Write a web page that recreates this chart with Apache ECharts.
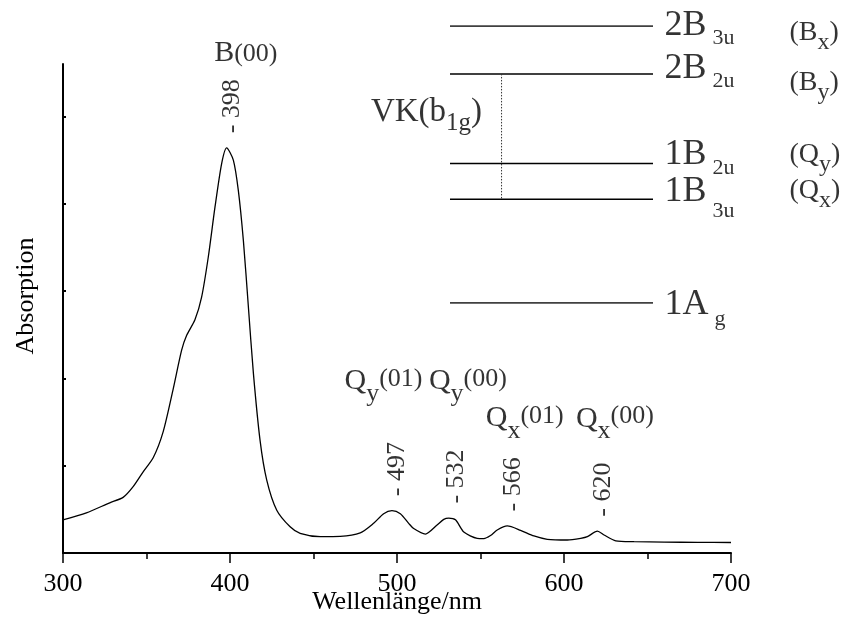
<!DOCTYPE html>
<html>
<head>
<meta charset="utf-8">
<title>Absorptionsspektrum</title>
<script src="https://cdn.jsdelivr.net/npm/echarts@6/dist/echarts.min.js"></script>
<style>
  html, body { margin: 0; padding: 0; background: #fff; }
  #chart { width: 845px; height: 628px; }
</style>
</head>
<body>
<div id="chart"></div>
<script>
// Absorption spectrum: wavelength (nm) and absorbance (arbitrary units)
const wavelengths = [300, 314, 328, 336, 342, 348, 354, 360, 366, 371, 374, 379, 383, 387, 391, 395, 398,
  402, 405, 408, 411, 414, 418, 422, 428, 436, 442, 454, 466, 478, 486, 492, 497, 502, 507, 510, 517,
  524, 528, 531, 535, 540, 548, 552, 556, 560, 566, 574, 582, 590, 602, 610, 614, 620, 624, 631, 642,
  660, 680, 700];
const absorbance = [0.378, 0.46, 0.575, 0.637, 0.76, 0.93, 1.09, 1.39, 1.88, 2.32, 2.49, 2.67, 2.93, 3.39, 3.96, 4.46, 4.64,
  4.50, 4.15, 3.58, 2.82, 2.06, 1.29, 0.835, 0.49, 0.30, 0.225, 0.187, 0.19, 0.23, 0.34, 0.45, 0.485, 0.45, 0.34, 0.28, 0.217,
  0.32, 0.385, 0.40, 0.38, 0.24, 0.168, 0.165, 0.20, 0.263, 0.31, 0.26, 0.195, 0.157, 0.149, 0.168, 0.187, 0.25, 0.206, 0.14, 0.13,
  0.125, 0.122, 0.12];

// Labelled band maxima
const peakWavelengths = [398, 497, 532, 566, 620];
const peakAbsorbance = [4.64, 0.485, 0.40, 0.31, 0.25];
const peakBand = ['B', 'Q', 'Q', 'Q', 'Q'];
const peakPolarization = ['', 'y', 'y', 'x', 'x'];
const peakVibronic = ['(00)', '(01)', '(00)', '(01)', '(00)'];

// Axis ticks
const xTickInterval = 100;
const yTicks = [1, 2, 3, 4, 5];

// Four-orbital state scheme (schematic level heights)
const levelHeight = [0, 3.75, 5.04, 8.27, 10];
const levelState = ['1A', '1B', '1B', '2B', '2B'];
const levelSymmetry = ['g', '3u', '2u', '2u', '3u'];
const levelBand = ['', 'Q', 'Q', 'B', 'B'];
const levelPolarization = ['', 'x', 'y', 'y', 'x'];
// Vibronic coupling between 2B2u and 1B3u
const couplingFrom = 3;
const couplingTo = 1;
const couplingName = 'VK(b';
const couplingSymmetry = '1g';

const FONT = 'Liberation Serif';
const BLACK = '#000';

// rich-text token: every token hangs from the top of the line so that
// the top padding sets its baseline (sub-/superscript shift)
function tok(size, padTop, padLeft) {
  return {
    fontFamily: FONT, fontSize: size, color: BLACK,
    verticalAlign: 'top',
    padding: [padTop || 0, 0, 0, padLeft || 0]
  };
}

// label placement (px, relative to anchor point)
const peakNameOffset = [[-12, -110], [-47, -145], [-21, -152], [-21, -123], [-21, -128]];
const stateLabelOffset = [[12, -16], [12, -25], [12, -26], [12, -23], [12, -18]];
const stateSubStyle = ['subG', 'subLow', 'sub', 'sub', 'sub'];
const bandLabelOffset = [null, [137, -21.5], [137, -22], [137, -4.5], [137, -7]];

const chart = echarts.init(document.getElementById('chart'), null, { renderer: 'canvas' });

const spectrumData = wavelengths.map((w, i) => [w, absorbance[i]]);

const peakNumberData = peakWavelengths.map((w, i) => [w, peakAbsorbance[i]]);

const peakNameData = peakWavelengths.map((w, i) => ({
  value: [w, peakAbsorbance[i]],
  label: { position: peakNameOffset[i] }
}));

const levelSeries = levelHeight.map((h) => ({
  type: 'line',
  xAxisIndex: 1,
  yAxisIndex: 1,
  data: [[0, h], [1, h]],
  showSymbol: false,
  symbol: 'none',
  silent: true,
  lineStyle: { color: BLACK, width: 1.5 },
  z: 3
}));

const stateLabelData = levelHeight.map((h, i) => ({
  value: [1, h],
  label: {
    position: stateLabelOffset[i],
    formatter: '{big|' + levelState[i] + '}{' + stateSubStyle[i] + '|' + levelSymmetry[i] + '}'
  }
}));

const bandLabelData = [];
levelHeight.forEach((h, i) => {
  if (!levelBand[i]) return;
  bandLabelData.push({
    value: [1, h],
    label: {
      position: bandLabelOffset[i],
      formatter: '{p|(' + levelBand[i] + '}{s|' + levelPolarization[i] + '}{p|)}'
    }
  });
});

const hiddenSymbol = { symbol: 'circle', symbolSize: 1, itemStyle: { color: 'rgba(0,0,0,0)' }, silent: true };

const option = {
  backgroundColor: '#fff',
  animation: false,
  textStyle: { fontFamily: FONT, color: BLACK },
  grid: [
    { left: 63, right: 114, top: 64, bottom: 75, containLabel: false, outerBoundsMode: 'none' },
    { left: 450, right: 192, top: 26, bottom: 325, containLabel: false, outerBoundsMode: 'none' }
  ],
  xAxis: [
    {
      type: 'value', gridIndex: 0, min: 300, max: 700, interval: xTickInterval,
      name: 'Wellenlänge/nm', nameLocation: 'middle', nameGap: 36, nameMoveOverlap: false,
      nameTextStyle: { fontFamily: FONT, fontSize: 26, color: BLACK },
      axisLine: { show: true, onZero: false, lineStyle: { color: BLACK, width: 2 } },
      axisTick: { show: true, inside: false, length: 10, lineStyle: { color: BLACK, width: 1.5 } },
      minorTick: { show: true, splitNumber: 2, length: 6, lineStyle: { color: BLACK, width: 1.5 } },
      axisLabel: { show: true, fontFamily: FONT, fontSize: 26, color: BLACK, margin: 18 },
      splitLine: { show: false },
      minorSplitLine: { show: false }
    },
    { type: 'value', gridIndex: 1, min: 0, max: 1, show: false }
  ],
  yAxis: [
    {
      type: 'value', gridIndex: 0, min: 0, max: 5.6, interval: 1,
      name: 'Absorption', nameLocation: 'middle', nameGap: 24, nameRotate: 90, nameMoveOverlap: false,
      nameTextStyle: { fontFamily: FONT, fontSize: 26, color: BLACK, padding: [0, 0, 0, 25] },
      axisLine: { show: true, onZero: false, lineStyle: { color: BLACK, width: 2 } },
      axisTick: { show: true, inside: true, length: 3, customValues: yTicks, lineStyle: { color: BLACK, width: 2 } },
      axisLabel: { show: false },
      splitLine: { show: false }
    },
    { type: 'value', gridIndex: 1, min: 0, max: 10, show: false }
  ],
  series: [
    {
      name: 'Absorption',
      type: 'line',
      xAxisIndex: 0, yAxisIndex: 0,
      data: spectrumData,
      showSymbol: false,
      symbol: 'none',
      smooth: 0.25,
      silent: true,
      lineStyle: { color: BLACK, width: 1.3 },
      z: 3
    },
    Object.assign({
      name: 'Bandenmaxima',
      type: 'scatter',
      xAxisIndex: 0, yAxisIndex: 0,
      data: peakNumberData,
      label: {
        show: true,
        position: [0, 0],
        rotate: 90,
        align: 'left',
        verticalAlign: 'middle',
        offset: [14, 6],
        fontFamily: FONT, fontSize: 26, color: BLACK,
        formatter: (p) => '- ' + p.value[0]
      },
      z: 5
    }, hiddenSymbol),
    Object.assign({
      name: 'Bandenbezeichnung',
      type: 'scatter',
      xAxisIndex: 0, yAxisIndex: 0,
      data: peakNameData,
      label: {
        show: true,
        align: 'left',
        verticalAlign: 'top',
        formatter: (p) => {
          const i = p.dataIndex;
          let s = '{band|' + peakBand[i] + '}';
          if (peakPolarization[i]) s += '{pol|' + peakPolarization[i] + '}{vib|' + peakVibronic[i] + '}';
          else s += '{vibB|' + peakVibronic[i] + '}';
          return s;
        },
        rich: {
          band: tok(30, 1),
          pol: tok(26, 16),
          vib: tok(26, 1),
          vibB: tok(26, 4)
        }
      },
      z: 5
    }, hiddenSymbol),
    ...levelSeries,
    {
      name: 'Kopplung',
      type: 'line',
      xAxisIndex: 1, yAxisIndex: 1,
      data: [[0.254, levelHeight[couplingFrom]], [0.254, levelHeight[couplingTo]]],
      showSymbol: false,
      symbol: 'none',
      silent: true,
      lineStyle: { color: '#333', width: 1, type: [1.5, 1.5] },
      z: 3
    },
    Object.assign({
      name: 'Kopplungsbezeichnung',
      type: 'scatter',
      xAxisIndex: 1, yAxisIndex: 1,
      data: [[0.254, levelHeight[couplingFrom]]],
      label: {
        show: true,
        position: [-19, 22],
        align: 'right',
        verticalAlign: 'top',
        formatter: '{vk|' + couplingName + '}{vs|' + couplingSymmetry + '}{vk|)}',
        rich: { vk: tok(33, 0), vs: tok(25, 16) }
      },
      z: 5
    }, hiddenSymbol),
    Object.assign({
      name: 'Zustände',
      type: 'scatter',
      xAxisIndex: 1, yAxisIndex: 1,
      data: stateLabelData,
      label: {
        show: true,
        align: 'left',
        verticalAlign: 'top',
        rich: {
          big: tok(36, 0),
          sub: tok(22, 20, 6),
          subLow: tok(22, 27, 6),
          subG: tok(22, 22, 6)
        }
      },
      z: 5
    }, hiddenSymbol),
    Object.assign({
      name: 'Übergänge',
      type: 'scatter',
      xAxisIndex: 1, yAxisIndex: 1,
      data: bandLabelData,
      label: {
        show: true,
        align: 'left',
        verticalAlign: 'top',
        rich: { p: tok(28, 0), s: tok(24, 12) }
      },
      z: 5
    }, hiddenSymbol)
  ]
};

chart.setOption(option);
</script>
</body>
</html>
